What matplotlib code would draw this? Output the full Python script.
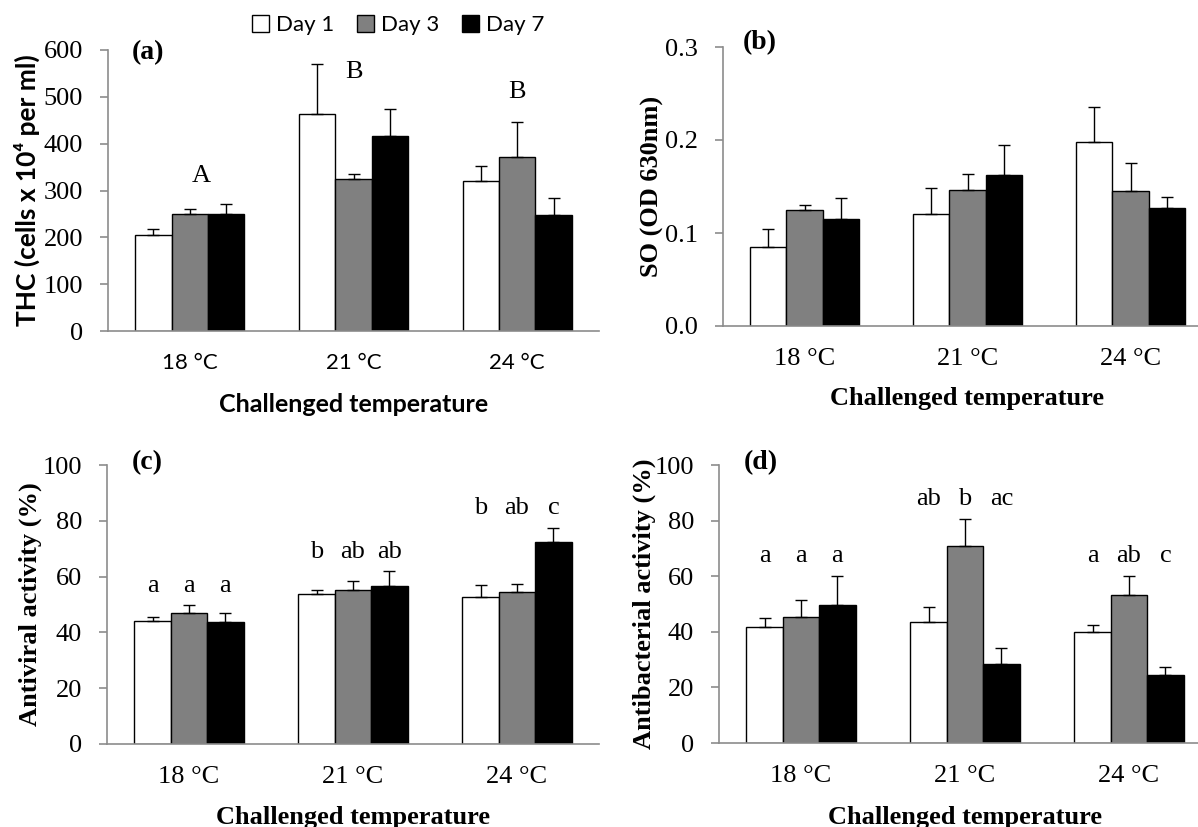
import matplotlib
matplotlib.use("Agg")
import matplotlib.pyplot as plt
from matplotlib.patches import Patch
import numpy as np

# data
temps = ["18 °C", "21 °C", "24 °C"]
days = ["Day 1", "Day 3", "Day 7"]

thc = [[204, 464, 320], [250, 325, 372], [250, 416, 247]]
thc_err = [[13, 107, 33], [10, 11, 75], [21, 57, 37]]
thc_letters = ["A", "B", "B"]
thc_letter_y = [330, 553, 511]
thc_letter_dx = [0.07, 0, 0]

so = [[0.085, 0.120, 0.198], [0.125, 0.146, 0.145], [0.115, 0.162, 0.127]]
so_err = [[0.019, 0.028, 0.037], [0.005, 0.017, 0.030], [0.023, 0.033, 0.012]]

antiviral = [[44.2, 53.8, 52.8], [47.0, 55.2, 54.6], [43.8, 56.6, 72.5]]
antiviral_err = [[1.4, 1.4, 4.2], [2.7, 3.1, 2.9], [3.1, 5.3, 5.0]]
antiviral_letters = [["a", "b", "b"], ["a", "ab", "ab"], ["a", "ab", "c"]]

antibact = [[41.8, 43.7, 40.0], [45.4, 71.0, 53.3], [49.6, 28.5, 24.4]]
antibact_err = [[3.1, 5.4, 2.3], [6.0, 9.6, 6.8], [10.5, 5.5, 3.1]]
antibact_letters = [["a", "ab", "a"], ["a", "b", "ab"], ["a", "ac", "c"]]

colors = ["white", "#808080", "black"]
SERIF = "Liberation Serif"
SANS = ["Lato", "DejaVu Sans"]
GRAY = "#8c8c8c"

W, H = 1198, 827
fig = plt.figure(figsize=(W / 100, H / 100), dpi=100)


def box(l, r, b, t):
    return [l / W, 1 - b / H, (r - l) / W, (b - t) / H]


def panel(rect, vals, errs, ymax, ystep, fmt, label, ylabel, sans, lab_xy, ylab_x, xlab_y):
    ax = fig.add_axes(rect)
    x = np.arange(len(temps))
    w = 0.222
    for i in range(3):
        xs = x + (i - 1) * w
        ax.bar(xs, vals[i], w, color=colors[i], edgecolor="black", linewidth=1, zorder=2)
        ax.errorbar(xs, vals[i], yerr=[np.zeros(3), errs[i]], fmt="none",
                    ecolor="black", elinewidth=1, capsize=4, capthick=1, zorder=3)
    ax.set_xlim(-0.5, 2.5)
    ax.set_ylim(0, ymax)
    ax.set_yticks(np.arange(0, ymax + ystep / 2, ystep))
    ax.yaxis.set_major_formatter(plt.FormatStrFormatter(fmt))
    ax.set_xticks(x)
    ax.set_xticklabels(temps)
    for s in ["top", "right"]:
        ax.spines[s].set_visible(False)
    for s in ["left", "bottom"]:
        ax.spines[s].set_color(GRAY)
        ax.spines[s].set_linewidth(1.2)
    ax.tick_params(axis="y", length=6, width=1.2, color=GRAY, pad=12)
    ax.tick_params(axis="x", length=0, pad=16)
    for t in ax.get_yticklabels():
        t.set_fontfamily(SERIF)
        t.set_fontsize(19)
    for t in ax.get_xticklabels():
        if sans:
            t.set_fontfamily(SANS)
            t.set_fontsize(16)
        else:
            t.set_fontfamily(SERIF)
            t.set_fontsize(19)
    if sans:
        ax.set_xlabel("Challenged temperature", family=SANS, fontsize=18, fontweight="bold")
        ax.set_ylabel(ylabel, family=SANS, fontsize=19, fontweight="bold")
    else:
        ax.set_xlabel("Challenged temperature", family=SERIF, fontsize=19, fontweight="bold")
        ax.set_ylabel(ylabel, family=SERIF, fontsize=19, fontweight="bold")
    ax.xaxis.set_label_coords(0.5, xlab_y)
    ax.yaxis.set_label_coords(ylab_x, 0.5)
    ax.text(lab_xy[0], lab_xy[1], label, transform=ax.transAxes, family=SERIF,
            fontsize=20, fontweight="bold", ha="left", va="center")
    return ax


def letters(ax, vals, errs, labs):
    for g in range(3):
        for i in range(3):
            top = max(vals[k][g] + errs[k][g] for k in range(3))
            ax.annotate(labs[i][g], (g + (i - 1) * 0.222, top), xytext=(0, 14),
                        textcoords="offset points", ha="center", va="center",
                        family=SERIF, fontsize=19)


ax_a = panel(box(108, 599, 331, 50), thc, thc_err, 600, 100, "%d", "(a)",
             "THC (cells x 10⁴ per ml)", True, (0.049, 0.99), -0.139, -0.221)
for g in range(3):
    ax_a.text(g + thc_letter_dx[g], thc_letter_y[g], thc_letters[g], ha="center",
              va="center", family=SERIF, fontsize=19)

ax_b = panel(box(723, 1212, 326, 47), so, so_err, 0.3, 0.1, "%.1f", "(b)",
             "SO (OD 630nm)", False, (0.041, 1.014), -0.120, -0.218)

ax_c = panel(box(107, 599, 744, 465), antiviral, antiviral_err, 100, 20, "%d", "(c)",
             "Antiviral activity (%)", False, (0.051, 1.007), -0.133, -0.223)
letters(ax_c, antiviral, antiviral_err, antiviral_letters)

ax_d = panel(box(719, 1211, 743, 465), antibact, antibact_err, 100, 20, "%d", "(d)",
             "Antibacterial activity (%)", False, (0.05, 1.007), -0.129, -0.226)
letters(ax_d, antibact, antibact_err, antibact_letters)

handles = [Patch(facecolor=c, edgecolor="black", linewidth=1) for c in colors]
fig.legend(handles, days, loc="center", bbox_to_anchor=(398 / W, 1 - 25 / H), ncol=3,
           frameon=False, prop={"family": SANS, "size": 16}, handlelength=0.8,
           handleheight=0.8, handletextpad=0.3, columnspacing=1.0)

fig.savefig("out.png", dpi=100)
